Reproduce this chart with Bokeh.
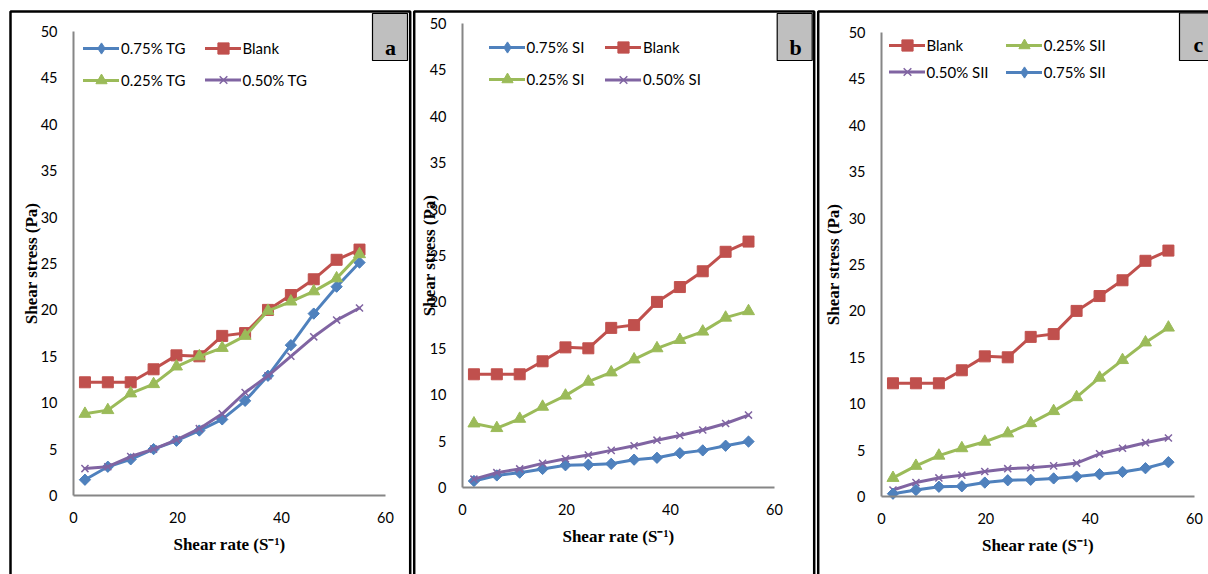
import math
from bokeh.plotting import figure
from bokeh.layouts import row
from bokeh.models import (Range1d, FixedTicker, Legend, LegendItem, BoxAnnotation, Label,
                          LinearAxis)
from bokeh.embed import file_html
from bokeh.resources import INLINE

# Shear rate (1/s) for every reading
shear_rate = [2.2, 6.6, 11.0, 15.4, 19.8, 24.2, 28.6, 33.0, 37.4, 41.8, 46.2, 50.6, 55.0]

# Shear stress (Pa) of the fluid without additive
blank = [12.2, 12.2, 12.2, 13.6, 15.1, 15.0, 17.2, 17.5, 20.0, 21.6, 23.3, 25.4, 26.5]

# TG additive
tg_025 = [8.8, 9.2, 11.0, 12.0, 13.9, 15.0, 15.9, 17.2, 19.9, 20.9, 22.0, 23.4, 26.0]
tg_050 = [2.9, 3.1, 4.2, 5.0, 6.0, 7.2, 8.8, 11.1, 12.9, 15.0, 17.1, 18.9, 20.2]
tg_075 = [1.7, 3.1, 3.9, 5.0, 5.9, 7.0, 8.2, 10.2, 12.9, 16.2, 19.6, 22.5, 25.1]

# SI additive
si_025 = [6.9, 6.4, 7.4, 8.7, 9.9, 11.4, 12.4, 13.8, 15.0, 15.9, 16.8, 18.3, 19.0]
si_050 = [0.9, 1.6, 2.0, 2.6, 3.1, 3.5, 4.0, 4.5, 5.1, 5.6, 6.2, 6.9, 7.8]
si_075 = [0.7, 1.3, 1.6, 2.0, 2.4, 2.45, 2.55, 3.0, 3.2, 3.7, 4.0, 4.5, 4.95]

# SII additive
sii_025 = [2.0, 3.3, 4.4, 5.2, 5.9, 6.8, 7.9, 9.2, 10.7, 12.8, 14.7, 16.6, 18.2]
sii_050 = [0.7, 1.5, 2.0, 2.3, 2.7, 3.0, 3.1, 3.3, 3.6, 4.6, 5.2, 5.8, 6.3]
sii_075 = [0.3, 0.7, 1.05, 1.1, 1.5, 1.75, 1.8, 1.95, 2.15, 2.4, 2.65, 3.05, 3.7]

x_ticks = [0, 20, 40, 60]
y_ticks = [0, 5, 10, 15, 20, 25, 30, 35, 40, 45, 50]
X_MAX = 60
Y_MAX = 50

x_title = "Shear rate (S\u207b\u00b9)"
y_title = "Shear stress (Pa)"

PAGE_H = 574
TICK_FONT = "Lato"
TITLE_FONT = "Liberation Serif"

# marker look per concentration; lg_marker/lg_h drive the legend swatch
STYLE = {
    "blank": dict(color="#C0504D", marker="square", size=11, angle=0.0, mlw=1.0,
                  lg_marker="square", lg_h=28),
    "025": dict(color="#9BBB59", marker="triangle", size=12, angle=0.0, mlw=1.0,
                lg_marker="triangle", lg_h=28),
    "050": dict(color="#8064A2", marker="x", size=10, angle=0.0, mlw=1.5,
                lg_marker="x", lg_h=27),
    "075": dict(color="#4F81BD", marker="square", size=8, angle=math.pi / 4, mlw=1.0,
                lg_marker="diamond", lg_h=28),
}


def style_axis(ax, label_standoff, title_standoff):
    ax.major_tick_line_color = None
    ax.minor_tick_line_color = None
    ax.major_tick_out = 0
    ax.major_tick_in = 0
    ax.minor_tick_out = 0
    ax.minor_tick_in = 0
    ax.axis_line_color = "#868686"
    ax.axis_line_width = 2
    ax.major_label_text_font = TICK_FONT
    ax.major_label_text_font_size = "14.5px"
    ax.major_label_text_color = "black"
    ax.axis_label_text_font = TITLE_FONT
    ax.axis_label_text_font_style = "bold"
    ax.axis_label_text_font_size = "17px"
    ax.axis_label_text_color = "black"
    ax.major_label_standoff = label_standoff
    ax.axis_label_standoff = title_standoff


def build_panel(spec):
    # plot-area corners on the page, in pixels
    fl, ft, fr, fb = spec["frame"]
    left0, width = spec["fig_left"], spec["width"]
    kx = (fr - fl) / X_MAX
    ky = (fb - ft) / Y_MAX
    x_rng = Range1d(-(fl - left0) / kx, X_MAX + (left0 + width - fr) / kx)
    y_rng = Range1d(-(PAGE_H - fb) / ky, Y_MAX + ft / ky)

    p = figure(width=width, height=PAGE_H, x_range=x_rng, y_range=y_rng,
               x_axis_type=None, y_axis_type=None,
               output_backend="svg", toolbar_location=None, title=None,
               min_border=0, min_border_left=0, min_border_right=0,
               min_border_top=0, min_border_bottom=0)
    p.outline_line_color = None
    p.background_fill_color = "white"
    p.border_fill_color = "white"

    xa = LinearAxis(fixed_location=0, bounds=(0, X_MAX), ticker=FixedTicker(ticks=x_ticks),
                    axis_label=x_title)
    style_axis(xa, 16, 9)
    p.add_layout(xa, "below")
    ya = LinearAxis(fixed_location=0, bounds=(0, Y_MAX), ticker=FixedTicker(ticks=y_ticks),
                    axis_label=y_title)
    style_axis(ya, 16, spec["ytitle_off"])
    p.add_layout(ya, "left")

    def sx(px):
        return px - left0

    def sy(py):
        return PAGE_H - py

    # panel frame line (open at the bottom)
    bl, bt, br = spec["border"]
    p.add_layout(BoxAnnotation(left=sx(bl), right=sx(br), top=sy(bt), bottom=sy(PAGE_H + 60),
                               left_units="screen", right_units="screen",
                               top_units="screen", bottom_units="screen",
                               fill_alpha=0, line_color="black", line_alpha=1,
                               line_width=2.5, level="overlay"))
    # grey tag with the panel letter
    x0, y0, x1, y1 = spec["tag_box"]
    p.add_layout(BoxAnnotation(left=sx(x0), right=sx(x1), top=sy(y0), bottom=sy(y1),
                               left_units="screen", right_units="screen",
                               top_units="screen", bottom_units="screen",
                               fill_color="#BFBFBF", fill_alpha=1, line_color="black",
                               line_alpha=1, line_width=1.2, level="overlay"))
    lx, ly = spec["tag_text_pos"]
    p.add_layout(Label(x=sx(lx), y=sy(ly), x_units="screen", y_units="screen",
                       text=spec["tag"], text_font=TITLE_FONT, text_font_style="bold",
                       text_font_size="22px", text_align="center",
                       text_baseline="alphabetic", text_color="black", level="overlay"))

    cols = spec["legend_cols"]
    rows_ = spec["legend_rows"]
    for i, (label, values, key) in enumerate(spec["series"]):
        st = STYLE[key]
        ln = p.line(shear_rate, values, line_color=st["color"], line_width=3,
                    line_join="round", line_cap="round")
        swatch = None
        if st["lg_marker"] != st["marker"]:
            # narrower diamond under the rotated squares; it supplies the legend swatch
            swatch = p.scatter(shear_rate, values, marker=st["lg_marker"], size=10,
                               fill_color=st["color"], line_color=st["color"],
                               line_width=st["mlw"])
        if st["marker"] == "x":
            mk = p.scatter(shear_rate, values, marker="x", size=st["size"],
                           line_color=st["color"], line_width=st["mlw"])
        else:
            mk = p.scatter(shear_rate, values, marker=st["marker"], size=st["size"],
                           angle=st["angle"], fill_color=st["color"],
                           line_color=st["color"], line_width=st["mlw"])
        if swatch is None:
            swatch = mk
        gh = st["lg_h"]
        item_h = max(gh, 20)
        cx = cols[i % 2]
        cy = rows_[i // 2]
        lg = Legend(items=[LegendItem(label=label, renderers=[ln, swatch])],
                    location=(sx(cx), sy(cy + item_h / 2)),
                    orientation="vertical", glyph_width=36, glyph_height=gh,
                    label_height=20, label_standoff=2, padding=0, margin=0, spacing=0,
                    border_line_alpha=0, background_fill_alpha=0,
                    label_text_font=TICK_FONT, label_text_font_size="15px",
                    label_text_color="black", label_text_baseline="middle")
        p.add_layout(lg)
    return p


panel_specs = [
    dict(fig_left=0, width=412, frame=(73, 31, 385, 495), ytitle_off=-3,
         border=(10, 11, 409.7), tag_box=(372, 13, 407, 60), tag="a", tag_text_pos=(390, 47),
         legend_cols=(83, 204.5), legend_rows=(47.5, 79.5),
         series=[("0.75% TG", tg_075, "075"), ("Blank", blank, "blank"),
                 ("0.25% TG", tg_025, "025"), ("0.50% TG", tg_050, "050")]),
    dict(fig_left=412, width=404, frame=(462, 23, 774, 487), ytitle_off=-12,
         border=(413.7, 11, 813.7), tag_box=(776.7, 13, 811.7, 60), tag="b", tag_text_pos=(795, 47),
         legend_cols=(488.5, 605), legend_rows=(47.4, 79.2),
         series=[("0.75% SI", si_075, "075"), ("Blank", blank, "blank"),
                 ("0.25% SI", si_025, "025"), ("0.50% SI", si_050, "050")]),
    dict(fig_left=816, width=392, frame=(881, 32, 1194, 496), ytitle_off=3,
         border=(817.7, 11, 1240), tag_box=(1179, 12.5, 1215, 60), tag="c", tag_text_pos=(1198, 44),
         legend_cols=(888.5, 1005.7), legend_rows=(44.7, 71.8),
         series=[("Blank", blank, "blank"), ("0.25% SII", sii_025, "025"),
                 ("0.50% SII", sii_050, "050"), ("0.75% SII", sii_075, "075")]),
]

layout = row(*[build_panel(s) for s in panel_specs], spacing=0)

open("out.html", "w").write(file_html(layout, INLINE))
